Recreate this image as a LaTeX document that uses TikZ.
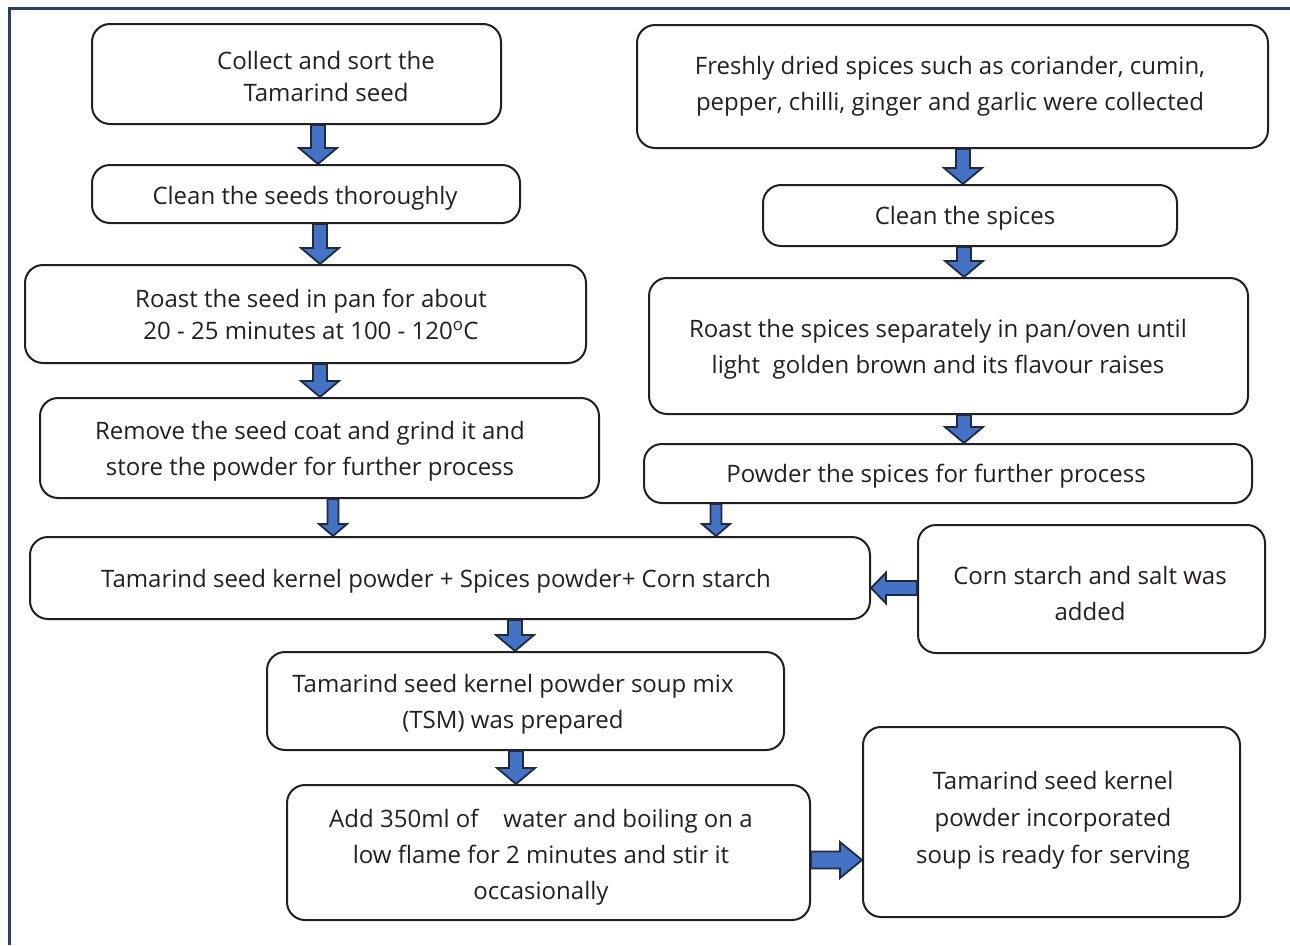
\documentclass[tikz,border=0pt]{standalone}
\usepackage{fontspec}
\setmainfont{Open Sans}
\usetikzlibrary{calc}
\definecolor{ink}{HTML}{231F20}
\definecolor{afill}{HTML}{4472C4}
\definecolor{aline}{HTML}{1F2A40}
\definecolor{framec}{HTML}{27416F}
\tikzset{
 box/.style={draw=ink, line width=2pt, rounded corners=18pt, inner sep=0pt},
 txt/.style={text=ink, align=center, inner sep=0pt, font=\fontsize{24}{36}\selectfont},
 tight/.style={font=\fontsize{24}{32}\selectfont},
 blkarrow/.style={fill=afill, draw=aline, line width=1.8pt, line join=miter},
}
% box: name, cx, cy, w, h
\newcommand\bx[5]{\node[box, minimum width=#4pt, minimum height=#5pt] (#1) at (#2,#3) {};}
% vertical arrow: X, from, to, half shaft, half head, head length
\newcommand\vblk[6]{\path let \p1=(#2.south), \p2=(#3.north) in
  [blkarrow] (#1pt-#4pt,\y1) -- (#1pt+#4pt,\y1) -- (#1pt+#4pt,\y2+#6pt) -- (#1pt+#5pt,\y2+#6pt)
  -- (#1pt,\y2) -- (#1pt-#5pt,\y2+#6pt) -- (#1pt-#4pt,\y2+#6pt) -- cycle;}
% right arrow: Y, from, to, half shaft, half head, head length
\newcommand\rblk[6]{\path let \p1=(#2.east), \p2=(#3.west) in
  [blkarrow] (\x1,-#1pt+#4pt) -- (\x2-#6pt,-#1pt+#4pt) -- (\x2-#6pt,-#1pt+#5pt) -- (\x2,-#1pt)
  -- (\x2-#6pt,-#1pt-#5pt) -- (\x2-#6pt,-#1pt-#4pt) -- (\x1,-#1pt-#4pt) -- cycle;}
% left arrow: Y, from, to, half shaft, half head, head length
\newcommand\lblk[6]{\path let \p1=(#2.west), \p2=(#3.east) in
  [blkarrow] (\x1,-#1pt+#4pt) -- (\x2+#6pt,-#1pt+#4pt) -- (\x2+#6pt,-#1pt+#5pt) -- (\x2,-#1pt)
  -- (\x2+#6pt,-#1pt-#5pt) -- (\x2+#6pt,-#1pt-#4pt) -- (\x1,-#1pt-#4pt) -- cycle;}
\begin{document}
\begin{tikzpicture}[x=1pt,y=-1pt]
\useasboundingbox (0,0) rectangle (1290,945);
\draw[framec, line width=3pt] (9,945) -- (9,8) -- (1290,8);
% boxes
\bx{b1}{296.5}{74}{409}{100}
\bx{b2}{306}{194}{428}{58}
\bx{b3}{305.5}{314}{561}{98}
\bx{b4}{319.5}{448}{559}{100}
\bx{b5}{952.5}{86.5}{631}{123}
\bx{b6}{970}{215.5}{414}{61}
\bx{b7}{948.5}{346}{599}{136}
\bx{b8}{948}{473.5}{608}{59}
\bx{b9}{450}{578}{840}{82}
\bx{b10}{1091.5}{589}{347}{128}
\bx{b11}{525.5}{701}{517}{98}
\bx{b12}{548.5}{852.5}{523}{135}
\bx{b13}{1051.5}{822}{377}{190}
% texts
\node[txt,tight] (t1) at (326,76) {Collect and sort the\\Tamarind seed};
\node[txt] (t2) at (305,198) {Clean the seeds thoroughly};
\node[txt,tight] (t3) at (311,314) {Roast the seed in pan for about\\20 - 25 minutes at 100 - 120\textsuperscript{o}C};
\node[txt] (t4) at (310,451) {Remove the seed coat and grind it and\\store the powder for further process};
\node[txt] (t5) at (950,86) {Freshly dried spices such as coriander, cumin,\\pepper, chilli, ginger and garlic were collected};
\node[txt] (t6) at (965,218) {Clean the spices};
\node[txt] (t7) at (938,349) {Roast the spices separately in pan/oven until\\light\ \ golden brown and its flavour raises};
\node[txt] (t8) at (936,476) {Powder the spices for further process};
\node[txt] (t9) at (436,581) {Tamarind seed kernel powder + Spices powder+ Corn starch};
\node[txt] (t10) at (1090,593) {Corn starch and salt was\\added};
\node[txt] (t11) at (513,704) {Tamarind seed kernel powder soup mix\\(TSM) was prepared};
\node[txt] (t12) at (541,857) {Add 350ml of\ \ \ \ water and boiling on a\\low flame for 2 minutes and stir it\\occasionally};
\node[txt,font=\fontsize{24}{37}\selectfont] (t13) at (1053,820) {Tamarind seed kernel\\powder incorporated\\soup is ready for serving};
% arrows
\vblk{318}{b1}{b2}{7}{19}{16}
\vblk{320}{b2}{b3}{7}{19}{16}
\vblk{320}{b3}{b4}{7}{19}{16}
\vblk{333}{b4}{b9}{5.5}{14}{12}
\vblk{716}{b8}{b9}{5.5}{14}{12}
\vblk{963}{b5}{b6}{7}{19}{16}
\vblk{964}{b6}{b7}{7}{19}{16}
\vblk{964}{b7}{b8}{7}{19}{16}
\lblk{588}{b10}{b9}{7}{15.5}{15}
\vblk{515}{b9}{b11}{7}{19}{16}
\vblk{516}{b11}{b12}{7}{19}{16}
\rblk{860}{b12}{b13}{8.5}{18}{22}
\end{tikzpicture}
\end{document}
